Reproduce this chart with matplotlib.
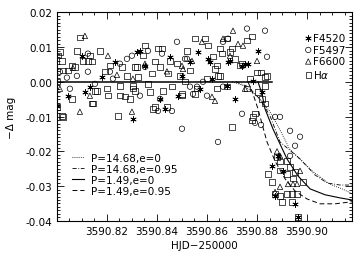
import matplotlib
matplotlib.use("Agg")
import matplotlib.pyplot as plt
from matplotlib.ticker import MultipleLocator, FormatStrFormatter

plt.rcParams['font.family'] = ['DejaVu Sans']
plt.rcParams['axes.unicode_minus'] = True

# photometry (HJD-250000, -delta mag)
f4520_x = [3590.8320, 3590.8232, 3590.8112, 3590.8044, 3590.8000, 3590.8304, 3590.8432,
           3590.8564, 3590.8532, 3590.8604, 3590.8684, 3590.8740, 3590.8620, 3590.8784,
           3590.8572, 3590.8712, 3590.8820, 3590.8804, 3590.8100, 3590.8180, 3590.8132,
           3590.8332, 3590.8452, 3590.8352, 3590.8500, 3590.8412, 3590.8484, 3590.8612,
           3590.8692, 3590.8752, 3590.8764, 3590.8680, 3590.8860, 3590.8904, 3590.8884,
           3590.8952, 3590.8872, 3590.8964]
f4520_y = [0.0086, 0.0058, -0.0029, -0.0040, -0.0069, -0.0107, -0.0078,
           0.0086, 0.0058, 0.0066, 0.0058, 0.0046, 0.0009, 0.0003,
           -0.0020, -0.0049, -0.0029, 0.0089, 0.0075, 0.0014, -0.0014,
           0.0089, 0.0072, 0.0046, 0.0017, -0.0049, -0.0040, 0.0058,
           0.0060, 0.0052, 0.0052, -0.0012, -0.0242, -0.0256, -0.0213,
           -0.0351, -0.0328, -0.0389]

f5497_x = [3590.8480, 3590.8364, 3590.8280, 3590.8224, 3590.8152, 3590.8052, 3590.8412,
           3590.8460, 3590.8332, 3590.8124, 3590.8012, 3590.8212, 3590.8124, 3590.8080,
           3590.8252, 3590.8420, 3590.8300, 3590.8512, 3590.8352, 3590.8532, 3590.8404,
           3590.8600, 3590.8760, 3590.8832, 3590.8684, 3590.8840, 3590.8740, 3590.8872,
           3590.8892, 3590.8500, 3590.8644, 3590.8792, 3590.8816, 3590.8932, 3590.8972,
           3590.8952, 3590.8932, 3590.8520, 3590.8560, 3590.8544, 3590.8664, 3590.8664,
           3590.8584, 3590.8040]
f5497_y = [0.0115, 0.0089, 0.0066, 0.0009, -0.0006, -0.0020, -0.0049,
           -0.0084, -0.0040, 0.0029, 0.0029, 0.0029, 0.0081, 0.0017,
           0.0052, 0.0081, 0.0075, 0.0066, 0.0043, -0.0014, -0.0084,
           -0.0040, 0.0153, 0.0147, 0.0124, 0.0072, -0.0092, -0.0101,
           -0.0101, -0.0135, -0.0173, -0.0118, -0.0124, -0.0141, -0.0158,
           -0.0184, -0.0213, 0.0066, -0.0014, -0.0035, -0.0014, 0.0115,
           0.0000, 0.0012]

f6600_x = [3590.8112, 3590.8204, 3590.8092, 3590.8300, 3590.8132, 3590.8352, 3590.8704,
           3590.8580, 3590.8664, 3590.8724, 3590.8692, 3590.8540, 3590.8800, 3590.8620,
           3590.8632, 3590.8504, 3590.8012, 3590.8304, 3590.8500, 3590.8744, 3590.8752,
           3590.8240, 3590.8064, 3590.8440, 3590.8892, 3590.8872, 3590.8892, 3590.8924,
           3590.8944, 3590.8960, 3590.8972, 3590.8880]
f6600_y = [0.0132, 0.0075, -0.0086, -0.0086, -0.0040, 0.0052, 0.0147,
           0.0115, 0.0124, 0.0109, 0.0075, 0.0060, 0.0060, -0.0043,
           -0.0055, 0.0037, -0.0020, 0.0009, 0.0046, 0.0104, -0.0020,
           0.0020, 0.0040, 0.0030, -0.0213, -0.0317, -0.0302, -0.0294,
           -0.0294, -0.0294, -0.0256, -0.0200]

halpha_x = [3590.8092, 3590.8012, 3590.8020, 3590.8024, 3590.8080, 3590.8104, 3590.8132,
            3590.8172, 3590.8124, 3590.8060, 3590.8060, 3590.8024, 3590.8140, 3590.8152,
            3590.8200, 3590.8244, 3590.8252, 3590.8272, 3590.8292, 3590.8304, 3590.8384,
            3590.8392, 3590.8420, 3590.8440, 3590.8352, 3590.8320, 3590.8212, 3590.8280,
            3590.8004, 3590.8140, 3590.8044, 3590.8072, 3590.8192, 3590.8260, 3590.8000,
            3590.8252, 3590.8160, 3590.8204, 3590.8144, 3590.8000, 3590.8020, 3590.8404,
            3590.8344, 3590.8452, 3590.8312, 3590.8412, 3590.8480, 3590.8444, 3590.8492,
            3590.8380, 3590.8324, 3590.8304, 3590.8364, 3590.8460, 3590.8560, 3590.8312,
            3590.8372, 3590.8424, 3590.8500, 3590.8392, 3590.8552, 3590.8592, 3590.8520,
            3590.8512, 3590.8500, 3590.8624, 3590.8660, 3590.8700, 3590.8760, 3590.8780,
            3590.8732, 3590.8640, 3590.8652, 3590.8532, 3590.8600, 3590.8640, 3590.8680,
            3590.8800, 3590.8816, 3590.8840, 3590.8772, 3590.8760, 3590.8832, 3590.8552,
            3590.8804, 3590.8820, 3590.8832, 3590.8784, 3590.8700, 3590.8604, 3590.8652,
            3590.8680, 3590.8692, 3590.8712, 3590.8740, 3590.8632, 3590.8644, 3590.8832,
            3590.8792, 3590.8780, 3590.8880, 3590.8892, 3590.8920, 3590.8932, 3590.8892,
            3590.8920, 3590.8952, 3590.8844, 3590.8860, 3590.8944, 3590.8984, 3590.8872,
            3590.8892, 3590.8920, 3590.8940, 3590.8960, 3590.8900, 3590.8940, 3590.8964]
halpha_y = [0.0127, 0.0086, 0.0060, 0.0032, 0.0089, 0.0060, 0.0075,
            0.0089, 0.0060, 0.0046, -0.0049, -0.0101, -0.0063, -0.0026,
            -0.0020, -0.0098, -0.0040, -0.0043, -0.0049, -0.0020, -0.0078,
            0.0058, 0.0095, -0.0072, 0.0104, 0.0043, 0.0046, 0.0017,
            0.0075, 0.0058, 0.0032, 0.0043, 0.0029, 0.0043, 0.0000,
            -0.0012, -0.0026, -0.0040, -0.0063, -0.0072, -0.0098, 0.0095,
            0.0075, 0.0060, 0.0043, 0.0043, 0.0052, 0.0023, 0.0017,
            0.0023, 0.0014, -0.0012, -0.0006, -0.0014, -0.0020, -0.0026,
            -0.0029, -0.0026, -0.0035, -0.0072, 0.0124, 0.0124, 0.0089,
            0.0000, -0.0040, 0.0072, 0.0081, 0.0095, 0.0118, 0.0130,
            0.0046, 0.0046, 0.0017, 0.0032, 0.0009, -0.0020, -0.0014,
            0.0026, 0.0026, 0.0017, 0.0009, -0.0020, -0.0012, -0.0035,
            -0.0029, -0.0049, -0.0063, -0.0101, -0.0130, 0.0104, 0.0095,
            0.0124, 0.0086, 0.0066, 0.0052, 0.0037, 0.0017, 0.0014,
            -0.0092, -0.0112, -0.0216, -0.0230, -0.0228, -0.0245, -0.0256,
            -0.0265, -0.0259, -0.0265, -0.0288, -0.0279, -0.0288, -0.0323,
            -0.0328, -0.0323, -0.0323, -0.0323, -0.0346, -0.0346, -0.0389]

# transit models
zero_x = [3590.800, 3590.886]
zero_y = [0.0, 0.0]

dot_x = [3590.870, 3590.875, 3590.880, 3590.885, 3590.889, 3590.893, 3590.902, 3590.909, 3590.914, 3590.918]
dot_y = [0.0, -0.0012, -0.0041, -0.0084, -0.0136, -0.0193, -0.0256, -0.0294, -0.0308, -0.0322]

dashdot_x = [3590.8716, 3590.8764, 3590.8812, 3590.8852, 3590.8892, 3590.8972, 3590.9032, 3590.9080, 3590.9132, 3590.918]
dashdot_y = [0.0, -0.0014, -0.0050, -0.0098, -0.0173, -0.0222, -0.0268, -0.0291, -0.0297, -0.0297]

solid_x = [3590.8804, 3590.8820, 3590.8832, 3590.8864, 3590.8920, 3590.8964, 3590.9012, 3590.9072, 3590.9132, 3590.918]
solid_y = [0.0, -0.0035, -0.0078, -0.0136, -0.0222, -0.0271, -0.0308, -0.0325, -0.0334, -0.0340]

dash_x = [3590.8764, 3590.8784, 3590.8804, 3590.8820, 3590.8840, 3590.8872, 3590.8912, 3590.8952, 3590.9000, 3590.9052, 3590.9112, 3590.918]
dash_y = [0.0, -0.0035, -0.0078, -0.0121, -0.0173, -0.0228, -0.0279, -0.0314, -0.0337, -0.0351, -0.0351, -0.0345]

x_ticks = [3590.82, 3590.84, 3590.86, 3590.88, 3590.90]

fig = plt.figure(figsize=(3.6, 2.55), dpi=100)
ax = fig.add_axes([0.158, 0.13, 0.82, 0.818])

mk = dict(facecolors='none', edgecolors='black', linewidths=0.5, s=15)
p1 = ax.scatter(f4520_x, f4520_y, marker=(6, 2, 0), c='black', s=16, linewidths=0.6, label='F4520')
p2 = ax.scatter(f5497_x, f5497_y, marker='o', label='F5497', **mk)
p3 = ax.scatter(f6600_x, f6600_y, marker='^', label='F6600', **mk)
p4 = ax.scatter(halpha_x, halpha_y, marker='s', label=r'H$\alpha$', **mk)

ax.plot(zero_x, zero_y, color='black', lw=1.1)
l1, = ax.plot(dot_x, dot_y, color='black', lw=0.6, ls=(0, (1, 1.5)), label='P=14.68,e=0')
l2, = ax.plot(dashdot_x, dashdot_y, color='black', lw=0.6, ls=(0, (5, 2, 1, 2)), label='P=14.68,e=0.95')
l3, = ax.plot(solid_x, solid_y, color='black', lw=0.8, label='P=1.49,e=0')
l4, = ax.plot(dash_x, dash_y, color='black', lw=0.7, ls=(0, (5, 3)), label='P=1.49,e=0.95')

ax.set_xlim(3590.80, 3590.918)
ax.set_ylim(-0.04, 0.02)
ax.set_xticks(x_ticks)
ax.xaxis.set_minor_locator(MultipleLocator(0.005))
ax.yaxis.set_major_locator(MultipleLocator(0.01))
ax.yaxis.set_minor_locator(MultipleLocator(0.001))
ax.xaxis.set_major_formatter(FormatStrFormatter('%.2f'))
ax.yaxis.set_major_formatter(FormatStrFormatter('%.2f'))
ax.tick_params(which='both', direction='in', top=True, right=True, labelsize=7.5, width=0.6)
ax.tick_params(which='major', length=5)
ax.tick_params(which='minor', length=2.5)
for s in ax.spines.values():
    s.set_linewidth(0.8)

ax.set_xlabel('HJD\u2212250000', fontsize=7.5, labelpad=3)
ax.set_ylabel('\u2212\u0394 mag', fontsize=7.5, labelpad=7)

leg1 = ax.legend(handles=[p1, p2, p3, p4], loc='upper right', bbox_to_anchor=(1.0, 0.93),
                 frameon=False, fontsize=7.5, handlelength=0.6, handletextpad=0.2,
                 labelspacing=0.15, borderaxespad=0.2)
ax.add_artist(leg1)
ax.legend(handles=[l1, l2, l3, l4], loc='lower left', bbox_to_anchor=(0.03, 0.09),
          frameon=False, fontsize=7.5, handlelength=1.2, handletextpad=0.6,
          labelspacing=0.1, borderaxespad=0.2)

fig.savefig('out.png', dpi=100)
